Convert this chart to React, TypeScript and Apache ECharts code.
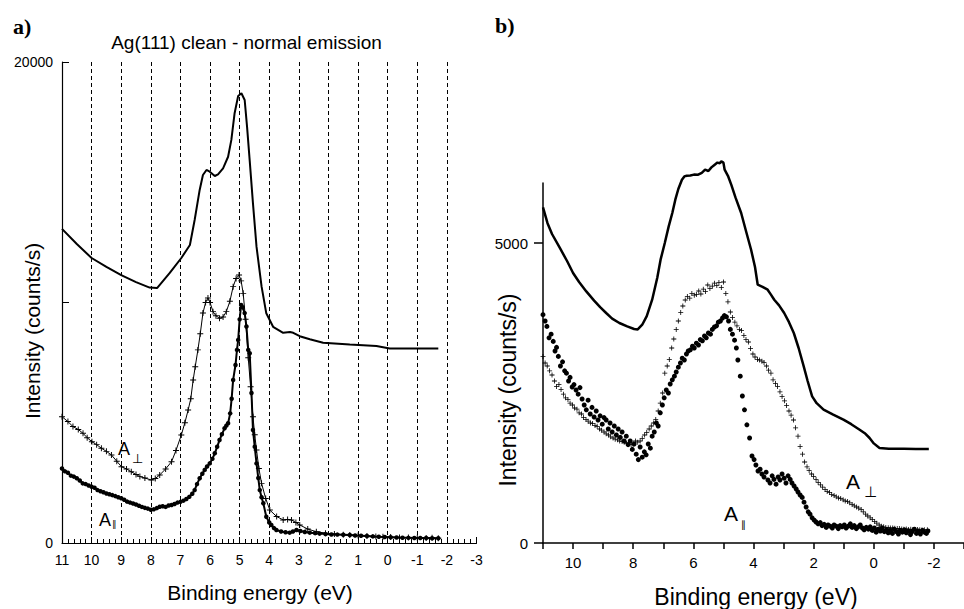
import React, { useEffect, useRef } from 'react';
import * as echarts from 'echarts';

// ---------- Panel a) : Ag(111) clean - normal emission ----------
const leftCleanEnergy = [11, 10.5, 10, 9.5, 9, 8.5, 8.04, 7.79, 7.36, 6.97, 6.68, 6.52, 6.35, 6.24, 6.12, 6.01, 5.84, 5.73, 5.56, 5.39, 5.28, 5.17, 5.05, 4.94, 4.83, 4.75, 4.66, 4.55, 4.43, 4.26, 4.1, 3.87, 3.53, 3.3, 3.19, 2.97, 2.63, 2.18, 1.28, 0.38, -0.07, -1.71];
const leftCleanCounts = [13060, 12430, 11850, 11480, 11140, 10850, 10620, 10600, 11230, 11850, 12390, 13430, 14680, 15300, 15510, 15440, 15260, 15330, 15580, 16060, 16760, 17870, 18590, 18700, 18420, 17310, 15900, 14120, 12320, 10670, 9550, 8990, 8740, 8770, 8740, 8600, 8470, 8330, 8250, 8190, 8090, 8090];

const leftPerpEnergy = [11, 10.8, 10.63, 10.45, 10.29, 10.15, 9.99, 9.83, 9.67, 9.5, 9.33, 9.15, 8.99, 8.82, 8.66, 8.5, 8.37, 8.2, 7.98, 7.85, 7.7, 7.5, 7.3, 7.15, 6.97, 6.85, 6.74, 6.65, 6.57, 6.5, 6.41, 6.33, 6.24, 6.15, 6.07, 6.0, 5.9, 5.8, 5.68, 5.56, 5.45, 5.33, 5.22, 5.12, 5.02, 4.95, 4.88, 4.8, 4.71, 4.63, 4.55, 4.49, 4.43, 4.35, 4.26, 4.12, 3.98, 3.75, 3.53, 3.38, 3.25, 3.1, 2.97, 2.7, 2.41, 2.1, 1.8, 1.5, 1.28, 1.0, 0.7, 0.4, 0.16, -0.1, -0.4, -0.7, -1.0, -1.3, -1.5, -1.71];
const leftPerpCounts = [5250, 5050, 4840, 4720, 4560, 4380, 4210, 4090, 3940, 3810, 3660, 3400, 3170, 3080, 2960, 2850, 2760, 2700, 2620, 2680, 2830, 3080, 3380, 3850, 4490, 5000, 5530, 6000, 6780, 7330, 8030, 8700, 9560, 10000, 10190, 10000, 9620, 9450, 9340, 9400, 9620, 10050, 10660, 11000, 11140, 10900, 10380, 9300, 7700, 6500, 5250, 4500, 3870, 3100, 2480, 1850, 1370, 1100, 960, 980, 960, 850, 750, 580, 470, 410, 370, 345, 330, 310, 290, 270, 260, 245, 230, 225, 215, 210, 215, 200];

const leftParEnergy = [11, 10.9, 10.8, 10.7, 10.6, 10.5, 10.4, 10.3, 10.2, 10.1, 10.0, 9.9, 9.8, 9.7, 9.6, 9.5, 9.4, 9.3, 9.2, 9.1, 9.0, 8.9, 8.8, 8.7, 8.6, 8.5, 8.4, 8.3, 8.2, 8.1, 8.0, 7.9, 7.8, 7.7, 7.6, 7.5, 7.4, 7.3, 7.2, 7.1, 7.0, 6.9, 6.8, 6.7, 6.6, 6.52, 6.44, 6.35, 6.26, 6.18, 6.1, 6.01, 5.92, 5.84, 5.76, 5.68, 5.6, 5.51, 5.45, 5.39, 5.32, 5.27, 5.22, 5.14, 5.09, 5.05, 5.0, 4.95, 4.9, 4.83, 4.77, 4.71, 4.66, 4.6, 4.55, 4.49, 4.43, 4.37, 4.32, 4.26, 4.2, 4.1, 4.0, 3.93, 3.84, 3.76, 3.6, 3.45, 3.31, 3.2, 3.08, 2.95, 2.8, 2.63, 2.45, 2.3, 2.1, 1.9, 1.7, 1.5, 1.28, 1.1, 0.9, 0.7, 0.5, 0.3, 0.1, -0.1, -0.3, -0.5, -0.7, -0.9, -1.1, -1.3, -1.5, -1.71];
const leftParCounts = [3100, 2980, 2920, 2800, 2760, 2690, 2600, 2480, 2450, 2390, 2340, 2300, 2200, 2150, 2110, 2060, 2030, 1990, 1950, 1900, 1860, 1800, 1720, 1680, 1640, 1600, 1550, 1500, 1460, 1430, 1380, 1400, 1450, 1510, 1530, 1500, 1560, 1580, 1620, 1680, 1710, 1760, 1830, 1920, 2050, 2200, 2450, 2690, 2880, 3040, 3180, 3310, 3500, 3730, 4000, 4280, 4520, 4770, 4880, 4980, 5390, 6000, 6780, 7400, 8030, 8440, 9300, 9900, 9800, 9560, 9000, 8030, 7890, 6240, 4700, 4000, 3310, 2700, 2200, 1900, 1650, 1090, 850, 750, 620, 540, 480, 450, 430, 480, 540, 500, 460, 430, 410, 390, 370, 355, 350, 340, 330, 310, 300, 290, 275, 260, 250, 240, 230, 220, 215, 210, 205, 210, 200, 200];

const leftYTicks = [0, 10000, 20000];
const leftYLabels = [0, 20000];

// ---------- Panel b) ----------
const rightCleanEnergy = [11, 10.85, 10.7, 10.44, 10.2, 10, 9.8, 9.56, 9.3, 9.1, 8.9, 8.7, 8.46, 8.2, 7.97, 7.85, 7.7, 7.55, 7.37, 7.2, 7.09, 6.95, 6.82, 6.7, 6.6, 6.5, 6.38, 6.3, 6.22, 6.1, 5.98, 5.84, 5.72, 5.61, 5.5, 5.4, 5.29, 5.2, 5.12, 5.07, 5.0, 4.96, 4.85, 4.74, 4.6, 4.41, 4.25, 4.08, 3.95, 3.86, 3.7, 3.53, 3.42, 3.31, 3.15, 2.98, 2.82, 2.66, 2.5, 2.33, 2.2, 2.05, 1.9, 1.67, 1.35, 1.01, 0.75, 0.47, 0.3, 0.14, 0, -0.19, -0.5, -1.0, -1.4, -1.83];
const rightCleanCounts = [5593, 5330, 5150, 4917, 4700, 4500, 4350, 4193, 4040, 3930, 3833, 3740, 3667, 3610, 3567, 3560, 3638, 3780, 4055, 4420, 4722, 5000, 5277, 5500, 5722, 5900, 6055, 6110, 6122, 6125, 6140, 6138, 6170, 6222, 6200, 6260, 6305, 6340, 6330, 6360, 6340, 6222, 6120, 5972, 5760, 5500, 5200, 4888, 4600, 4305, 4270, 4222, 4140, 4055, 3960, 3833, 3680, 3500, 3250, 2943, 2700, 2443, 2330, 2222, 2140, 2055, 1980, 1888, 1830, 1750, 1660, 1583, 1570, 1570, 1565, 1567];

const rightPerp: [number, number][] = [
  [11.0, 3110], [10.93, 3000], [10.86, 2950], [10.78, 2870], [10.7, 2800], [10.62, 2700], [10.55, 2610], [10.47, 2640], [10.4, 2560], [10.32, 2480],
  [10.25, 2420], [10.17, 2390], [10.1, 2330], [10.02, 2300], [9.95, 2250], [9.87, 2230], [9.8, 2170], [9.72, 2150], [9.65, 2090], [9.57, 2060],
  [9.5, 2030], [9.42, 2000], [9.35, 1990], [9.27, 1960], [9.2, 1945], [9.12, 1900], [9.05, 1880], [8.97, 1850], [8.9, 1820], [8.82, 1800],
  [8.75, 1770], [8.67, 1750], [8.6, 1730], [8.52, 1720], [8.45, 1700], [8.37, 1690], [8.3, 1680], [8.22, 1660], [8.15, 1670], [8.07, 1640],
  [8.0, 1650], [7.92, 1700], [7.85, 1680], [7.77, 1700], [7.7, 1740], [7.62, 1800], [7.55, 1840], [7.47, 1900], [7.4, 1950], [7.32, 2000],
  [7.25, 2060], [7.17, 2200], [7.1, 2330], [7.02, 2500], [6.95, 2830], [6.87, 2950], [6.8, 3060], [6.72, 3250], [6.65, 3400], [6.57, 3560],
  [6.5, 3700], [6.42, 3840], [6.35, 3950], [6.27, 4050], [6.2, 4110], [6.12, 4080], [6.05, 4160], [5.97, 4130], [5.9, 4140], [5.82, 4200],
  [5.75, 4150], [5.67, 4230], [5.6, 4190], [5.52, 4300], [5.45, 4240], [5.37, 4280], [5.3, 4330], [5.22, 4290], [5.15, 4340], [5.07, 4260],
  [5.0, 4350], [4.92, 4160], [4.85, 4020], [4.77, 3850], [4.7, 3760], [4.62, 3680], [4.55, 3620], [4.47, 3560], [4.4, 3540], [4.32, 3460],
  [4.25, 3390], [4.17, 3350], [4.1, 3240], [4.02, 3150], [3.95, 3100], [3.87, 3060], [3.8, 3050], [3.72, 3030], [3.65, 3010], [3.57, 2950],
  [3.5, 2880], [3.42, 2830], [3.35, 2720], [3.27, 2660], [3.2, 2610], [3.12, 2520], [3.05, 2440], [2.97, 2370], [2.9, 2290], [2.82, 2200],
  [2.75, 2130], [2.67, 2050], [2.6, 1920], [2.52, 1780], [2.45, 1610], [2.37, 1480], [2.3, 1350], [2.22, 1270], [2.15, 1210], [2.07, 1150],
  [2.0, 1110], [1.92, 1060], [1.85, 1010], [1.77, 970], [1.7, 930], [1.62, 890], [1.55, 860], [1.47, 840], [1.4, 810], [1.32, 790],
  [1.25, 770], [1.17, 750], [1.1, 740], [1.02, 720], [0.95, 700], [0.87, 690], [0.8, 670], [0.72, 640], [0.65, 620], [0.57, 600],
  [0.5, 580], [0.42, 560], [0.35, 520], [0.27, 480], [0.2, 450], [0.12, 420], [0.05, 390], [-0.03, 360], [-0.1, 330], [-0.18, 300],
  [-0.25, 280], [-0.33, 270], [-0.4, 260], [-0.48, 255], [-0.55, 250], [-0.63, 250], [-0.7, 245], [-0.78, 240], [-0.85, 240], [-0.93, 235],
  [-1.0, 230], [-1.08, 235], [-1.15, 225], [-1.23, 230], [-1.3, 225], [-1.38, 220], [-1.45, 225], [-1.53, 220], [-1.6, 215], [-1.68, 220], [-1.78, 222],
];

const rightPar: [number, number][] = [
  [11.0, 3805], [10.93, 3700], [10.87, 3610], [10.8, 3420], [10.73, 3480], [10.66, 3360], [10.6, 3200], [10.55, 3260], [10.49, 3110], [10.42, 2950],
  [10.35, 3020], [10.28, 2870], [10.22, 2830], [10.15, 2700], [10.1, 2760], [10.03, 2600], [9.97, 2640], [9.9, 2550], [9.83, 2480], [9.77, 2590],
  [9.7, 2400], [9.63, 2300], [9.56, 2220], [9.5, 2380], [9.43, 2150], [9.37, 2260], [9.3, 2100], [9.23, 2200], [9.17, 2050], [9.1, 2120],
  [9.03, 1980], [8.97, 2090], [8.9, 2050], [8.83, 1900], [8.77, 2000], [8.7, 1850], [8.63, 1950], [8.56, 1800], [8.5, 1900], [8.43, 1760],
  [8.37, 1850], [8.3, 1700], [8.23, 1780], [8.17, 1640], [8.1, 1700], [8.03, 1560], [7.97, 1650], [7.9, 1480], [7.83, 1390], [7.77, 1600],
  [7.7, 1430], [7.63, 1520], [7.57, 1470], [7.5, 1650], [7.43, 1580], [7.37, 1780], [7.3, 1850], [7.23, 2000], [7.17, 1950], [7.1, 2170],
  [7.03, 2300], [6.97, 2420], [6.9, 2550], [6.83, 2500], [6.77, 2650], [6.7, 2720], [6.63, 2780], [6.57, 2850], [6.5, 2930], [6.43, 3000],
  [6.37, 3080], [6.3, 3050], [6.23, 3150], [6.17, 3200], [6.1, 3220], [6.03, 3280], [5.97, 3250], [5.9, 3330], [5.83, 3300], [5.77, 3390],
  [5.7, 3370], [5.63, 3450], [5.57, 3420], [5.5, 3500], [5.43, 3480], [5.37, 3560], [5.3, 3600], [5.23, 3620], [5.17, 3680], [5.1, 3700],
  [5.03, 3750], [4.97, 3790], [4.9, 3770], [4.83, 3700], [4.77, 3560], [4.7, 3480], [4.63, 3380], [4.57, 3250], [4.52, 3050], [4.44, 2780],
  [4.37, 2450], [4.3, 2220], [4.22, 1970], [4.13, 1750], [4.05, 1450], [3.98, 1390], [3.92, 1300], [3.85, 1200], [3.78, 1230], [3.72, 1150],
  [3.65, 1100], [3.58, 1180], [3.52, 1050], [3.45, 1000], [3.38, 1120], [3.32, 1060], [3.25, 980], [3.18, 1100], [3.12, 1050], [3.05, 1150],
  [2.98, 1080], [2.92, 1000], [2.85, 1120], [2.78, 1060], [2.72, 1000], [2.65, 950], [2.58, 900], [2.52, 850], [2.45, 800], [2.38, 760],
  [2.32, 680], [2.25, 600], [2.18, 520], [2.12, 480], [2.05, 420], [1.98, 380], [1.92, 350], [1.85, 320], [1.78, 340], [1.72, 290],
  [1.65, 310], [1.58, 260], [1.52, 300], [1.45, 280], [1.38, 250], [1.32, 300], [1.25, 280], [1.18, 240], [1.12, 290], [1.05, 270],
  [0.98, 300], [0.92, 250], [0.85, 280], [0.78, 320], [0.72, 260], [0.65, 290], [0.58, 240], [0.52, 270], [0.45, 300], [0.38, 250],
  [0.32, 220], [0.25, 260], [0.18, 230], [0.12, 270], [0.05, 210], [-0.02, 250], [-0.08, 180], [-0.15, 230], [-0.22, 200], [-0.28, 250],
  [-0.35, 190], [-0.42, 220], [-0.48, 170], [-0.55, 210], [-0.62, 160], [-0.68, 230], [-0.75, 190], [-0.82, 150], [-0.88, 210], [-0.95, 180],
  [-1.02, 220], [-1.08, 170], [-1.15, 200], [-1.22, 140], [-1.28, 190], [-1.35, 230], [-1.42, 160], [-1.48, 200], [-1.55, 150], [-1.62, 210],
  [-1.68, 180], [-1.75, 160], [-1.8, 200],
];

const rightXLabels = [10, 8, 6, 4, 2, 0, -2];
const rightYTicks = [0, 5000];
const rightYMinorTicks = [2500];
const rightYLabels = [0, 5000];

const FONT = '"Liberation Sans", Arial, Helvetica, sans-serif';
const SYM_FONT = '"DejaVu Sans", sans-serif';
const PLUS = 'path://M4.2,0H5.8V4.2H10V5.8H5.8V10H4.2V5.8H0V4.2H4.2Z';

const zip = (a: number[], b: number[]) => a.map((v, i) => [v, b[i]]);
const plain = (v: number) => String(v);

export default function App() {
  const ref = useRef<HTMLDivElement>(null);
  useEffect(() => {
    if (!ref.current) return;
    const chart = echarts.init(ref.current, undefined, { renderer: 'svg' });
    const black = '#000';
    const txt = (text: string, x: number, y: number, size: number, extra: any = {}) => ({
      type: 'text',
      x,
      y,
      rotation: extra.rotation || 0,
      style: {
        text,
        fill: black,
        fontSize: size,
        fontFamily: extra.family || FONT,
        fontWeight: extra.weight || 'normal',
        align: extra.align || 'center',
        verticalAlign: 'middle',
      },
    });
    const option: any = {
      animation: false,
      backgroundColor: '#fff',
      grid: [
        { left: 62, top: 62, width: 414.5, height: 481 },
        { left: 543, top: 183, width: 426, height: 360 },
      ],
      xAxis: [
        {
          type: 'value', gridIndex: 0, min: -3, max: 11, interval: 1, inverse: true,
          axisLine: { show: true, onZero: false, lineStyle: { color: black, width: 1.2 } },
          axisTick: { show: true, inside: true, length: 6, lineStyle: { color: black } },
          minorTick: { show: true, splitNumber: 5, length: 4, lineStyle: { color: black } },
          axisLabel: { color: black, fontSize: 14, fontFamily: FONT, margin: 10, showMinLabel: true, showMaxLabel: true, formatter: plain },
          splitLine: { show: true, showMinLine: false, showMaxLine: false, lineStyle: { color: black, type: [4, 3], width: 1 } },
        },
        {
          type: 'value', gridIndex: 1, min: -3, max: 11, interval: 1, inverse: true,
          axisLine: { show: true, onZero: false, lineStyle: { color: black, width: 1.5 } },
          axisTick: { show: true, inside: false, length: 6, lineStyle: { color: black, width: 1.5 } },
          axisLabel: { color: black, fontSize: 15, fontFamily: FONT, margin: 12, customValues: rightXLabels, formatter: plain },
          splitLine: { show: false },
        },
      ],
      yAxis: [
        {
          type: 'value', gridIndex: 0, min: 0, max: 20000,
          axisLine: { show: true, onZero: false, lineStyle: { color: black, width: 1.2 } },
          axisTick: { show: true, inside: true, length: 7, customValues: leftYTicks, lineStyle: { color: black } },
          axisLabel: { color: black, fontSize: 14, fontFamily: FONT, margin: 9, customValues: leftYLabels, formatter: plain },
          splitLine: { show: false },
        },
        {
          type: 'value', gridIndex: 1, min: 0, max: 6000,
          axisLine: { show: true, onZero: false, lineStyle: { color: black, width: 1.5 } },
          axisTick: { show: true, inside: false, length: 9, customValues: rightYTicks, lineStyle: { color: black, width: 1.5 } },
          axisLabel: { color: black, fontSize: 15, fontFamily: FONT, margin: 15, customValues: rightYLabels, formatter: plain },
          splitLine: { show: false },
        },
        {
          type: 'value', gridIndex: 1, min: 0, max: 6000,
          axisLine: { show: false, onZero: false },
          axisTick: { show: true, inside: false, length: 5, customValues: rightYMinorTicks, lineStyle: { color: black, width: 1.5 } },
          axisLabel: { show: false },
          splitLine: { show: false },
        },
      ],
      series: [
        {
          type: 'line', xAxisIndex: 0, yAxisIndex: 0, data: zip(leftCleanEnergy, leftCleanCounts),
          showSymbol: false, lineStyle: { color: black, width: 2 }, itemStyle: { color: black },
        },
        {
          type: 'line', xAxisIndex: 0, yAxisIndex: 0, data: zip(leftPerpEnergy, leftPerpCounts),
          symbol: PLUS, symbolSize: 6, showSymbol: true, lineStyle: { color: black, width: 1 }, itemStyle: { color: black },
        },
        {
          type: 'line', xAxisIndex: 0, yAxisIndex: 0, data: zip(leftParEnergy, leftParCounts),
          symbol: 'circle', symbolSize: 4.5, showSymbol: true, lineStyle: { color: black, width: 2 }, itemStyle: { color: black },
        },
        {
          type: 'line', xAxisIndex: 1, yAxisIndex: 1, data: zip(rightCleanEnergy, rightCleanCounts), clip: false,
          showSymbol: false, lineStyle: { color: black, width: 2.5 }, itemStyle: { color: black },
        },
        {
          type: 'scatter', xAxisIndex: 1, yAxisIndex: 1, data: rightPerp,
          symbol: PLUS, symbolSize: 5, itemStyle: { color: black, opacity: 1 },
        },
        {
          type: 'scatter', xAxisIndex: 1, yAxisIndex: 1, data: rightPar,
          symbol: 'circle', symbolSize: 5, itemStyle: { color: black, opacity: 1 },
        },
      ],
      graphic: [
        txt('a)', 13, 26, 22, { family: '"Liberation Serif", "Times New Roman", serif', weight: 'bold', align: 'left' }),
        txt('b)', 495, 25, 22, { family: '"Liberation Serif", "Times New Roman", serif', weight: 'bold', align: 'left' }),
        txt('Ag(111) clean - normal emission', 246.5, 42, 19),
        txt('Binding energy (eV)', 260, 592, 21),
        txt('Intensity (counts/s)', 32, 331, 21, { rotation: Math.PI / 2 }),
        txt('Binding energy (eV)', 756, 597, 23),
        txt('Intensity (counts/s)', 508, 390, 23, { rotation: Math.PI / 2 }),
        txt('A', 118, 449, 18, { align: 'left' }),
        txt('⊥', 132, 458, 13, { align: 'left', family: SYM_FONT }),
        txt('A', 99, 520, 18, { align: 'left' }),
        txt('∥', 112, 524, 9, { align: 'left', family: SYM_FONT }),
        txt('A', 846, 481, 21, { align: 'left' }),
        txt('⊥', 864, 492, 15, { align: 'left', family: SYM_FONT }),
        txt('A', 724, 513, 21, { align: 'left' }),
        txt('∥', 741, 524, 10, { align: 'left', family: SYM_FONT }),
      ],
    };
    chart.setOption(option);
    return () => chart.dispose();
  }, []);
  return <div ref={ref} style={{ position: 'fixed', left: 0, top: 0, width: 964, height: 609, background: '#fff' }} />;
}
